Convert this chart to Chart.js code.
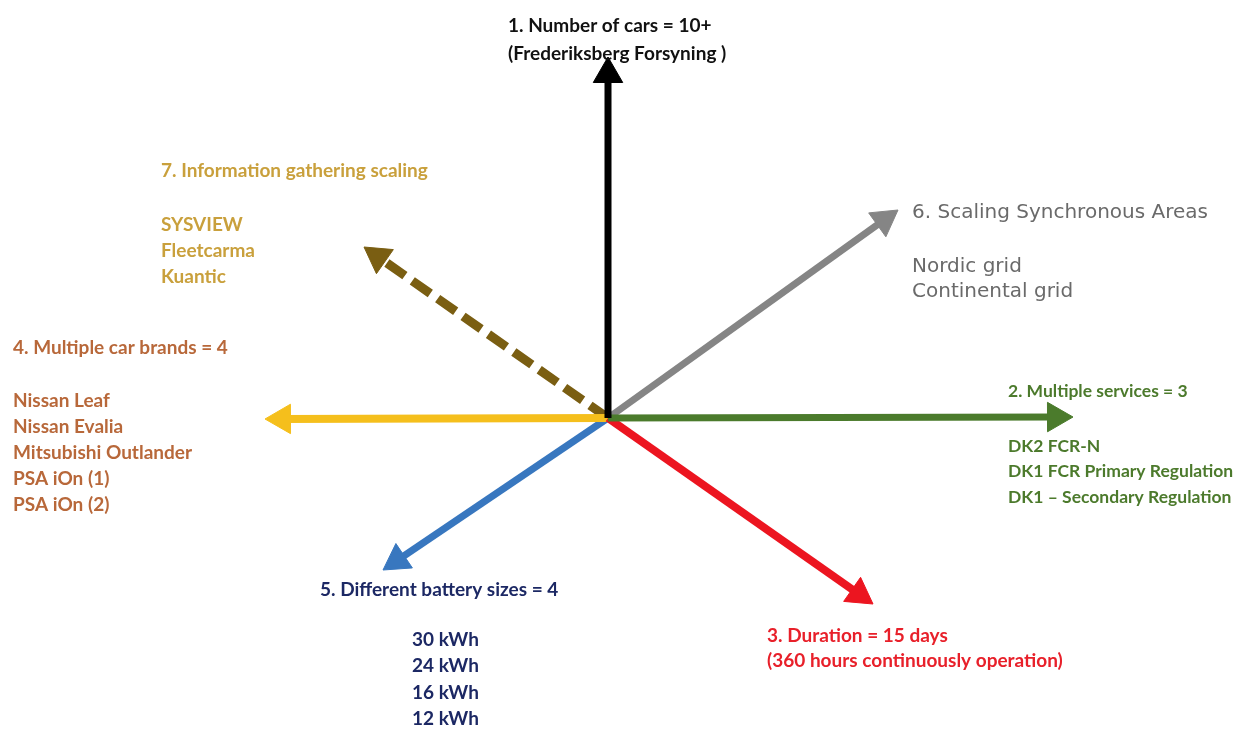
<!DOCTYPE html>
<html><head><meta charset="utf-8">
<script src="https://cdn.jsdelivr.net/npm/chart.js@4"></script>
<style>html,body{margin:0;padding:0;background:#fff}#wrap{width:1237px;height:731px}</style>
</head><body><div id="wrap"><canvas id="c"></canvas></div>
<script>
// Diagram data (axis units = canvas pixels, y grows downward)
const origin = [608, 418];
const arrowNames = ['1. Number of cars','2. Multiple services','3. Duration','4. Car brands','5. Battery sizes','6. Synchronous areas','7. Information gathering'];
const tipX = [608, 1073, 873, 265, 383, 898, 364];
const tipY = [57, 417, 604, 419, 570, 210, 247];
const arrowColors = ['#000000','#4b7b2c','#ec1520','#f5bf1c','#3877bf','#858585','#7a5e12'];
const arrowWidths = [7, 7, 8, 8, 7, 7, 9];
const arrowDashed = [false, false, false, false, false, false, true];

// Text blocks
const textTitles = ['1. Number of cars = 10+','(Frederiksberg Forsyning )',
  '7. Information gathering scaling','SYSVIEW','Fleetcarma','Kuantic',
  '6. Scaling Synchronous Areas','Nordic grid','Continental grid',
  '4. Multiple car brands = 4','Nissan Leaf','Nissan Evalia','Mitsubishi Outlander','PSA iOn (1)','PSA iOn (2)',
  '2. Multiple services = 3','DK2 FCR-N','DK1 FCR Primary Regulation','DK1 \u2013 Secondary Regulation',
  '5. Different battery sizes = 4','30 kWh','24 kWh','16 kWh','12 kWh',
  '3. Duration = 15 days','(360 hours continuously operation)'];
const textX = [508,508, 161,161,161,161, 912,912,912, 13,13,13,13,13,13, 1008,1008,1008,1008, 320,412,412,412,412, 767,767];
const textY = [26,54, 171,225,251,277, 213,267,292, 348,401,427,453,479,505, 391,446,471,497, 590,640,666,693,719, 636,661];
const textColor = ['#111','#111','#c9a03c','#c9a03c','#c9a03c','#c9a03c','#6a6a6a','#6a6a6a','#6a6a6a',
  '#b8683a','#b8683a','#b8683a','#b8683a','#b8683a','#b8683a','#4c7a2c','#4c7a2c','#4c7a2c','#4c7a2c',
  '#1c2864','#1c2864','#1c2864','#1c2864','#1c2864','#e8202a','#e8202a'];
const textFont = ['bold 19px Lato','bold 19px Lato','bold 19px Lato','bold 19px Lato','bold 19px Lato','bold 19px Lato',
  '20px "DejaVu Sans"','20px "DejaVu Sans"','20px "DejaVu Sans"',
  'bold 19px Lato','bold 19px Lato','bold 19px Lato','bold 19px Lato','bold 19px Lato','bold 19px Lato',
  'bold 17.5px Lato','bold 17.5px Lato','bold 17.5px Lato','bold 17.5px Lato',
  'bold 19px Lato','bold 19px Lato','bold 19px Lato','bold 19px Lato','bold 19px Lato',
  'bold 19px Lato','bold 19px Lato'];

const HEAD = 17;
const datasets = arrowNames.map((n, i) => {
  const dx = tipX[i] - origin[0], dy = tipY[i] - origin[1];
  const L = Math.hypot(dx, dy);
  const hx = tipX[i] - HEAD * dx / L, hy = tipY[i] - HEAD * dy / L;
  const rot = Math.atan2(dx, -dy) * 180 / Math.PI;
  return {
    label: n,
    data: [{x: origin[0], y: origin[1]}, {x: hx, y: hy}],
    borderColor: arrowColors[i],
    backgroundColor: arrowColors[i],
    borderWidth: arrowWidths[i],
    borderDash: arrowDashed[i] ? [22, 9] : [],
    borderCapStyle: 'butt',
    showLine: true,
    pointStyle: 'triangle',
    pointRadius: [0, HEAD],
    pointRotation: [0, rot],
    pointBorderWidth: 1,
    pointBorderColor: arrowColors[i],
    pointBackgroundColor: arrowColors[i],
    order: i === 0 ? 0 : 1
  };
});

const textPlugin = {
  id: 'texts',
  afterDatasetsDraw(chart) {
    const {ctx, scales: {x, y}} = chart;
    ctx.save();
    ctx.textAlign = 'left';
    ctx.textBaseline = 'middle';
    textTitles.forEach((t, i) => {
      ctx.font = textFont[i];
      ctx.fillStyle = textColor[i];
      ctx.fillText(t, x.getPixelForValue(textX[i]), y.getPixelForValue(textY[i]));
    });
    ctx.restore();
  }
};

new Chart(document.getElementById('c'), {
  type: 'scatter',
  data: { datasets },
  options: {
    responsive: true, maintainAspectRatio: false, animation: false,
    layout: { padding: 0, autoPadding: false },
    plugins: { legend: { display: false }, tooltip: { enabled: false } },
    scales: {
      x: { type: 'linear', min: 0, max: 1237, display: false },
      y: { type: 'linear', min: 0, max: 731, reverse: true, display: false }
    }
  },
  plugins: [textPlugin]
});
</script></body></html>
